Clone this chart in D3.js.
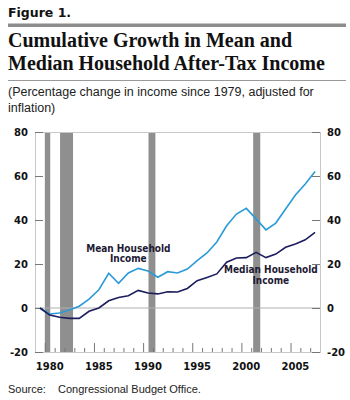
<!DOCTYPE html>
<html>
<head>
<meta charset="utf-8">
<script src="https://cdn.jsdelivr.net/npm/d3@7"></script>
<style>
  html, body { margin: 0; padding: 0; background: #ffffff; }
  svg { display: block; }
</style>
</head>
<body>
<div id="chart"></div>
<script>
// Data (percentage change since 1979)
const years = [1979, 1980, 1981, 1982, 1983, 1984, 1985, 1986, 1987, 1988, 1989, 1990, 1991, 1992, 1993,
  1994, 1995, 1996, 1997, 1998, 1999, 2000, 2001, 2002, 2003, 2004, 2005, 2006, 2007];
const meanIncome = [0, -2.7, -2.3, -0.9, 0.8, 4, 8.3, 15.8, 11.2, 15.9, 18, 16.8, 14, 16.5, 15.9,
  17.7, 21.5, 25, 30, 37.4, 42.7, 45.3, 40.5, 35.5, 38.6, 45, 51.4, 56.4, 62];
const medianIncome = [0, -3.2, -4.2, -4.7, -4.7, -1.5, 0, 3.3, 4.8, 5.6, 8, 6.8, 6.4, 7.4, 7.3,
  8.9, 12.4, 13.9, 15.5, 20.8, 22.7, 22.9, 25.3, 22.9, 24.5, 27.6, 29.1, 31, 34.4];
// Recessions as [start, end] in fractional years
const recessions = [[1980.0, 1980.55], [1981.55, 1982.87], [1990.55, 1991.25], [2001.2, 2001.92]];
const yTicks = [-20, 0, 20, 40, 60, 80];
const xLabelYears = [1980, 1985, 1990, 1995, 2000, 2005];

const W = 350, H = 400;
const plot = { left: 35, right: 320, top: 132, bottom: 352 };

const svg = d3.select('#chart')
  .append('svg')
  .attr('width', W)
  .attr('height', H)
  .style('font-family', '"DejaVu Sans", sans-serif');

// Header
svg.append('text')
  .attr('x', 8)
  .attr('y', 17)
  .style('font-size', '12.5px')
  .style('font-weight', 'bold')
  .attr('fill', '#111')
  .text('Figure 1.');

svg.append('rect')
  .attr('x', 8).attr('y', 23.5)
  .attr('width', 338).attr('height', 3.5)
  .attr('fill', '#8c8c8c');

const titleLines = ['Cumulative Growth in Mean and', 'Median Household After-Tax Income'];
svg.selectAll('.title')
  .data(titleLines)
  .enter()
  .append('text')
  .attr('class', 'title')
  .attr('x', 8)
  .attr('y', (d, i) => 47 + i * 23)
  .style('font-family', '"Liberation Serif", serif')
  .style('font-size', '20px')
  .style('font-weight', 'bold')
  .attr('fill', '#111')
  .text(d => d);

svg.append('line')
  .attr('x1', 8).attr('x2', 346)
  .attr('y1', 80.5).attr('y2', 80.5)
  .attr('stroke', '#999')
  .attr('stroke-width', 1);

const subLines = ['(Percentage change in income since 1979, adjusted for', 'inflation)'];
svg.selectAll('.subtitle')
  .data(subLines)
  .enter()
  .append('text')
  .attr('class', 'subtitle')
  .attr('x', 8)
  .attr('y', (d, i) => 96 + i * 16)
  .style('font-family', '"Liberation Sans", sans-serif')
  .style('font-size', '12.5px')
  .attr('fill', '#222')
  .text(d => d);

// Scales
const x = d3.scaleLinear().domain([1979, 2008]).range([plot.left, plot.right]);
const y = d3.scaleLinear().domain([-20, 80]).range([plot.bottom, plot.top]);

// Recession bars
svg.selectAll('.recession')
  .data(recessions)
  .enter()
  .append('rect')
  .attr('class', 'recession')
  .attr('x', d => x(d[0]))
  .attr('width', d => x(d[1]) - x(d[0]))
  .attr('y', y(80))
  .attr('height', y(-20) - y(80))
  .attr('fill', '#8f8f8f');

// Frame
svg.append('rect')
  .attr('x', plot.left + 0.5)
  .attr('y', plot.top + 0.5)
  .attr('width', plot.right - plot.left)
  .attr('height', plot.bottom - plot.top)
  .attr('fill', 'none')
  .attr('stroke', '#c8c8c8');

// Zero line
svg.append('line')
  .attr('x1', plot.left).attr('x2', plot.right)
  .attr('y1', y(0)).attr('y2', y(0))
  .attr('stroke', '#b0b0b0')
  .attr('stroke-width', 1.2);

// Left and right axes with inward ticks
const leftAxis = svg.append('g')
  .attr('transform', `translate(${plot.left},0)`)
  .call(d3.axisRight(y).tickValues(yTicks).tickSize(8).tickFormat(''));
const rightAxis = svg.append('g')
  .attr('transform', `translate(${plot.right},0)`)
  .call(d3.axisLeft(y).tickValues(yTicks).tickSize(8).tickFormat(''));
[leftAxis, rightAxis].forEach(g => {
  g.select('.domain').remove();
  g.selectAll('line').attr('stroke', '#777');
});

svg.selectAll('.ylabel-left')
  .data(yTicks)
  .enter()
  .append('text')
  .attr('x', 28)
  .attr('y', d => y(d) + 4)
  .attr('text-anchor', 'end')
  .style('font-size', '10px')
  .style('font-weight', 'bold')
  .attr('fill', '#111')
  .text(d => d);

svg.selectAll('.ylabel-right')
  .data(yTicks)
  .enter()
  .append('text')
  .attr('x', 327)
  .attr('y', d => y(d) + 4)
  .attr('text-anchor', 'start')
  .style('font-size', '10px')
  .style('font-weight', 'bold')
  .attr('fill', '#111')
  .text(d => d);

// Bottom axis: minor ticks every year, major every five years (inward)
const minorYears = d3.range(1980, 2008);
const bottomAxis = svg.append('g')
  .attr('transform', `translate(0,${plot.bottom})`)
  .call(d3.axisTop(x).tickValues(minorYears).tickSize(4).tickFormat(''));
bottomAxis.select('.domain').remove();
bottomAxis.selectAll('.tick line')
  .attr('stroke', '#777')
  .attr('y2', d => d % 5 === 0 ? -9 : -4);

svg.selectAll('.xlabel')
  .data(xLabelYears)
  .enter()
  .append('text')
  .attr('x', d => x(d + 0.5))
  .attr('y', 370)
  .attr('text-anchor', 'middle')
  .style('font-size', '10px')
  .style('font-weight', 'bold')
  .attr('fill', '#111')
  .text(d => d);

// Lines, plotted at mid-year
const line = d3.line()
  .x((d, i) => x(years[i] + 0.5))
  .y(d => y(d));

svg.append('path')
  .datum(meanIncome)
  .attr('fill', 'none')
  .attr('stroke', '#2a9ad8')
  .attr('stroke-width', 1.6)
  .attr('d', line);

svg.append('path')
  .datum(medianIncome)
  .attr('fill', 'none')
  .attr('stroke', '#1b1d5c')
  .attr('stroke-width', 1.6)
  .attr('d', line);

// Series labels
const seriesLabels = [
  { lines: ['Mean Household', 'Income'], year: 1988.5, value: 25.5 },
  { lines: ['Median Household', 'Income'], year: 2003.0, value: 15.9 }
];
seriesLabels.forEach(s => {
  svg.append('text')
    .attr('x', x(s.year))
    .attr('y', y(s.value))
    .attr('text-anchor', 'middle')
    .style('font-family', '"DejaVu Sans Condensed", "DejaVu Sans", sans-serif')
    .style('font-stretch', 'condensed')
    .style('font-size', '10px')
    .style('font-weight', 'bold')
    .attr('fill', '#1e1a33')
    .selectAll('tspan')
    .data(s.lines)
    .enter()
    .append('tspan')
    .attr('x', x(s.year))
    .attr('dy', (d, i) => i === 0 ? 0 : 10.5)
    .text(d => d);
});

// Source note
svg.append('text')
  .attr('x', 8)
  .attr('y', 393)
  .style('font-family', '"Liberation Sans", sans-serif')
  .style('font-size', '11px')
  .attr('fill', '#222')
  .text('Source:');
svg.append('text')
  .attr('x', 58)
  .attr('y', 393)
  .style('font-family', '"Liberation Sans", sans-serif')
  .style('font-size', '11px')
  .attr('fill', '#222')
  .text('Congressional Budget Office.');
</script>
</body>
</html>
